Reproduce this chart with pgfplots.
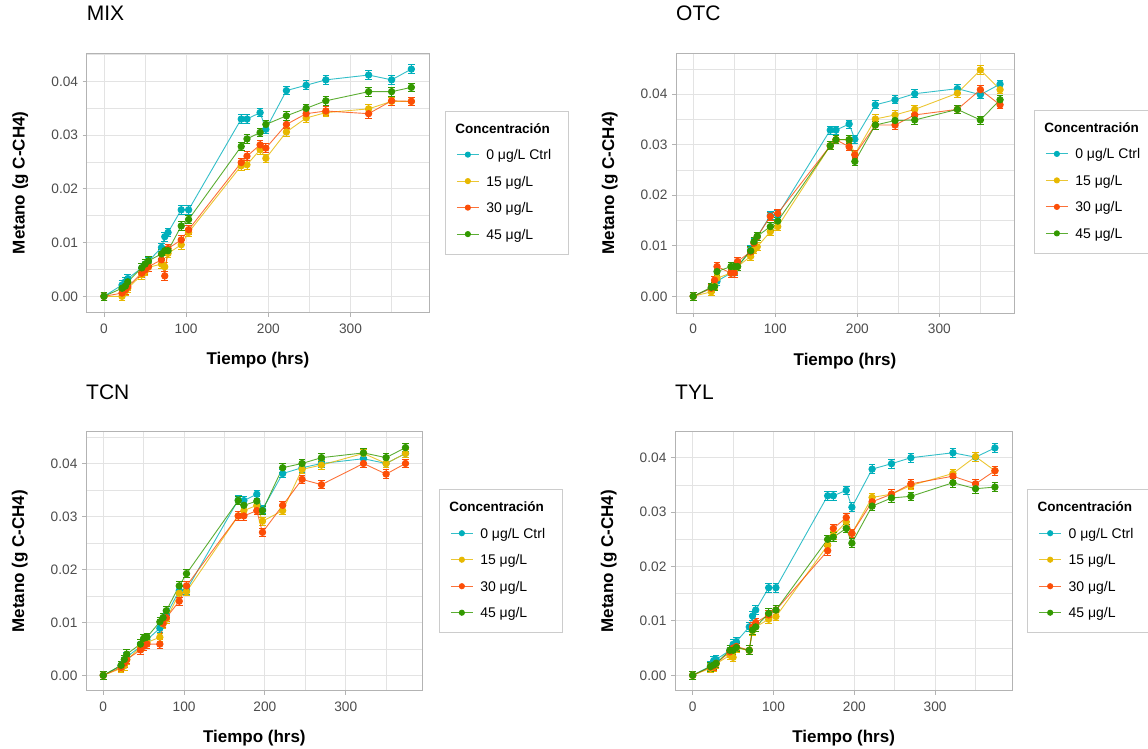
\documentclass[border=0pt]{standalone}
\usepackage{fontspec}
\setmainfont{Liberation Sans}
\usepackage{pgfplots}
\usepackage{pgfplotstable}
\pgfplotsset{compat=1.18}

\definecolor{cy}{HTML}{00AFBB}
\definecolor{ye}{HTML}{E7B800}
\definecolor{or}{HTML}{FC4E07}
\definecolor{gr}{HTML}{339900}
\definecolor{bordergray}{HTML}{B3B3B3}
\definecolor{gridgray}{HTML}{E3E3E3}
\definecolor{tickgray}{HTML}{4D4D4D}
\definecolor{legendgray}{HTML}{CCCCCC}

\newcommand{\tickfont}{\fontsize{13.7}{16}\selectfont}
\newcommand{\labfont}{\bfseries\fontsize{17}{20}\selectfont}
\newcommand{\titfont}{\fontsize{21}{24}\selectfont}
\newcommand{\legtitle}{\hspace*{-31pt}\makebox[102pt][l]{\bfseries\fontsize{13.5}{16}\selectfont Concentración}}

\pgfplotstableread{
t   c      y      o      g      e
0   0      0      0      0      0.0008
22  0.0021 0.0000 0.0006 0.0015 0.0008
26  0.0027 0.0010 0.0012 0.0019 0.0008
29  0.0033 0.0015 0.0018 0.0027 0.0008
46  0.0053 0.0040 0.0043 0.0053 0.0008
50  0.0060 0.0046 0.0049 0.0060 0.0008
54  0.0065 0.0054 0.0055 0.0066 0.0008
70  0.0091 0.0060 0.0068 0.0079 0.0008
74  0.0111 0.0055 0.0038 0.0085 0.0008
78  0.0119 0.0080 0.0089 0.0085 0.0008
94  0.0161 0.0096 0.0105 0.0131 0.0008
103 0.0161 0.0119 0.0124 0.0143 0.0008
167 0.0330 0.0243 0.0249 0.0279 0.0008
174 0.0330 0.0245 0.0261 0.0293 0.0008
190 0.0342 0.0273 0.0282 0.0305 0.0008
197 0.0311 0.0257 0.0276 0.0320 0.0008
222 0.0383 0.0306 0.0320 0.0336 0.0008
246 0.0393 0.0332 0.0340 0.0350 0.0008
270 0.0403 0.0342 0.0345 0.0364 0.0008
322 0.0412 0.0349 0.0340 0.0381 0.0008
350 0.0403 0.0363 0.0364 0.0381 0.0008
374 0.0423 0.0363 0.0363 0.0389 0.0008
}\mix

\pgfplotstableread{
t   c      y      o      g      e
0   0      0      0      0      0.0008
22  0.0016 0.0009 0.0016 0.0018 0.0008
26  0.0022 0.0022 0.0032 0.0019 0.0008
29  0.0030 0.0036 0.0059 0.0049 0.0008
46  0.0046 0.0046 0.0046 0.0059 0.0008
50  0.0050 0.0052 0.0046 0.0059 0.0008
54  0.0059 0.0059 0.0069 0.0059 0.0008
70  0.0092 0.0079 0.0088 0.0090 0.0008
74  0.0106 0.0092 0.0105 0.0108 0.0008
78  0.0118 0.0098 0.0118 0.0119 0.0008
94  0.0160 0.0128 0.0158 0.0138 0.0008
103 0.0161 0.0138 0.0164 0.0149 0.0008
167 0.0329 0.0298 0.0298 0.0298 0.0008
174 0.0329 0.0310 0.0310 0.0310 0.0008
190 0.0341 0.0310 0.0296 0.0310 0.0008
197 0.0311 0.0281 0.0280 0.0267 0.0008
222 0.0379 0.0351 0.0339 0.0339 0.0008
246 0.0389 0.0359 0.0339 0.0348 0.0008
270 0.0401 0.0370 0.0359 0.0349 0.0008
322 0.0411 0.0402 0.0370 0.0370 0.0008
350 0.0399 0.0448 0.0409 0.0349 0.0008
374 0.0420 0.0409 0.0379 0.0389 0.0008
}\otc

\pgfplotstableread{
t   c      y      o      g      e
0   0      0      0      0      0.0008
22  0.0018 0.0013 0.0015 0.0019 0.0008
26  0.0026 0.0018 0.0023 0.0030 0.0008
29  0.0035 0.0029 0.0030 0.0040 0.0008
46  0.0054 0.0053 0.0048 0.0059 0.0008
50  0.0062 0.0059 0.0055 0.0070 0.0008
54  0.0067 0.0062 0.0059 0.0072 0.0008
70  0.0089 0.0072 0.0059 0.0101 0.0008
74  0.0104 0.0097 0.0098 0.0109 0.0008
78  0.0114 0.0106 0.0109 0.0122 0.0008
94  0.0160 0.0155 0.0140 0.0169 0.0008
103 0.0161 0.0158 0.0169 0.0192 0.0008
167 0.0331 0.0301 0.0301 0.0330 0.0008
174 0.0330 0.0311 0.0301 0.0321 0.0008
190 0.0342 0.0321 0.0311 0.0329 0.0008
197 0.0313 0.0291 0.0270 0.0311 0.0008
222 0.0381 0.0311 0.0321 0.0392 0.0008
246 0.0392 0.0389 0.0370 0.0400 0.0008
270 0.0400 0.0397 0.0360 0.0411 0.0008
322 0.0409 0.0419 0.0400 0.0420 0.0008
350 0.0400 0.0400 0.0380 0.0411 0.0008
374 0.0419 0.0419 0.0400 0.0430 0.0008
}\tcn

\pgfplotstableread{
t   c      y      o      g      e
0   0      0      0      0      0.0008
22  0.0017 0.0013 0.0015 0.0016 0.0008
26  0.0027 0.0016 0.0017 0.0019 0.0008
29  0.0029 0.0021 0.0022 0.0022 0.0008
46  0.0046 0.0037 0.0043 0.0046 0.0008
50  0.0057 0.0033 0.0050 0.0046 0.0008
54  0.0062 0.0050 0.0053 0.0051 0.0008
70  0.0089 0.0046 0.0046 0.0046 0.0008
74  0.0109 0.0082 0.0089 0.0083 0.0008
78  0.0120 0.0089 0.0097 0.0089 0.0008
94  0.0161 0.0103 0.0111 0.0114 0.0008
103 0.0161 0.0108 0.0120 0.0120 0.0008
167 0.0330 0.0239 0.0229 0.0250 0.0008
174 0.0330 0.0257 0.0270 0.0254 0.0008
190 0.0340 0.0282 0.0290 0.0270 0.0008
197 0.0309 0.0261 0.0261 0.0243 0.0008
222 0.0379 0.0327 0.0319 0.0311 0.0008
246 0.0389 0.0333 0.0333 0.0326 0.0008
270 0.0400 0.0349 0.0352 0.0329 0.0008
322 0.0409 0.0371 0.0366 0.0354 0.0008
350 0.0401 0.0402 0.0352 0.0343 0.0008
374 0.0418 0.0376 0.0376 0.0346 0.0008
}\tyl

\pgfplotsset{
  panel/.style={
    scale only axis,
    anchor=south west,
    axis line style={draw=bordergray, line width=0.9pt},
    tick align=outside,
    xtick pos=bottom, ytick pos=left,
    major tick length=4pt,
    minor tick length=0pt,
    tick style={draw=bordergray, line width=0.9pt},
    xtick={0,100,200,300},
    minor xtick={50,150,250,350},
    ytick={0,0.01,0.02,0.03,0.04},
    minor ytick={0.005,0.015,0.025,0.035,0.045},
    grid=both,
    major grid style={draw=gridgray, line width=0.9pt},
    minor grid style={draw=gridgray, line width=0.6pt},
    scaled y ticks=false,
    /pgf/number format/assume math mode=true,
    yticklabel style={/pgf/number format/fixed, /pgf/number format/fixed zerofill, /pgf/number format/precision=2, font=\tickfont, text=tickgray, inner sep=0pt, xshift=-4.4pt},
    xticklabel style={font=\tickfont, text=tickgray, inner sep=0pt, yshift=-6.6pt},
    title style={at={(axis description cs:0,1)}, anchor=base west, yshift=26.5pt, inner sep=0pt, font=\titfont},
    xlabel={Tiempo (hrs)},
    ylabel={Metano (g C-CH4)},
    xlabel style={at={(axis description cs:0.5,0)}, anchor=base, yshift=-52pt, inner sep=0pt, font=\labfont},
    ylabel style={anchor=base, inner sep=0pt, font=\labfont},
    legend cell align=left,
    legend style={anchor=north west, draw=legendgray, line width=0.8pt, fill=white,
      inner xsep=11pt, inner ysep=12pt, row sep=13.5pt, column sep=7pt,
      font=\fontsize{14}{16}\selectfont,
      nodes={inner sep=0pt, text height=10pt, text depth=3pt}},
    legend image code/.code={\draw[mark repeat=2, mark phase=2, ##1, mark size=2.6pt] plot coordinates {(0pt,1.5pt) (11pt,1.5pt) (22pt,1.5pt)};},
  },
  ser/.style={color=#1, line width=0.9pt, draw opacity=0.8, mark=*, mark size=3.2pt,
    mark options={solid, draw opacity=1, fill opacity=1},
    error bars/.cd, y dir=both, y explicit,
    error bar style={line width=0.9pt, draw opacity=1},
    error mark options={rotate=90, mark size=3.3pt, line width=0.9pt}},
}

\begin{document}
\begin{tikzpicture}
\useasboundingbox (0,0) rectangle (1148pt,748pt);

\begin{axis}[panel, at={(86.7pt,435.3pt)}, width=342.3pt, height=259.7pt,
  xmin=-21, xmax=395.5, ymin=-0.00305, ymax=0.0453, title={MIX},
  ylabel style={at={(axis description cs:-0.1811,0.5)}},
  legend style={at={(axis description cs:1.0467,0.7778)}}]
\addlegendimage{empty legend}
\addplot[ser=cy] table[x=t, y=c, y error=e] {\mix};
\addplot[ser=ye] table[x=t, y=y, y error=e] {\mix};
\addplot[ser=or] table[x=t, y=o, y error=e] {\mix};
\addplot[ser=gr] table[x=t, y=g, y error=e] {\mix};
\legend{\legtitle, 0 μg/L Ctrl, 15 μg/L, 30 μg/L, 45 μg/L}
\end{axis}

\begin{axis}[panel, at={(676pt,435pt)}, width=338pt, height=259.7pt,
  xmin=-21, xmax=391, ymin=-0.0033, ymax=0.0481, title={OTC},
  ylabel style={at={(axis description cs:-0.1834,0.5)}},
  legend style={at={(axis description cs:1.0592,0.7817)}}]
\addlegendimage{empty legend}
\addplot[ser=cy] table[x=t, y=c, y error=e] {\otc};
\addplot[ser=ye] table[x=t, y=y, y error=e] {\otc};
\addplot[ser=or] table[x=t, y=o, y error=e] {\otc};
\addplot[ser=gr] table[x=t, y=g, y error=e] {\otc};
\legend{\legtitle, 0 μg/L Ctrl, 15 μg/L, 30 μg/L, 45 μg/L}
\end{axis}

\begin{axis}[panel, at={(86pt,57.3pt)}, width=336.7pt, height=259pt,
  xmin=-21.4, xmax=395.3, ymin=-0.0029, ymax=0.046, title={TCN},
  ylabel style={at={(axis description cs:-0.1841,0.5)}},
  legend style={at={(axis description cs:1.0484,0.7776)}}]
\addlegendimage{empty legend}
\addplot[ser=cy] table[x=t, y=c, y error=e] {\tcn};
\addplot[ser=ye] table[x=t, y=y, y error=e] {\tcn};
\addplot[ser=or] table[x=t, y=o, y error=e] {\tcn};
\addplot[ser=gr] table[x=t, y=g, y error=e] {\tcn};
\legend{\legtitle, 0 μg/L Ctrl, 15 μg/L, 30 μg/L, 45 μg/L}
\end{axis}

\begin{axis}[panel, at={(675pt,57.3pt)}, width=337.3pt, height=259pt,
  xmin=-21.9, xmax=395.5, ymin=-0.00283, ymax=0.04478, title={TYL},
  ylabel style={at={(axis description cs:-0.1838,0.5)}},
  legend style={at={(axis description cs:1.0445,0.7776)}}]
\addlegendimage{empty legend}
\addplot[ser=cy] table[x=t, y=c, y error=e] {\tyl};
\addplot[ser=ye] table[x=t, y=y, y error=e] {\tyl};
\addplot[ser=or] table[x=t, y=o, y error=e] {\tyl};
\addplot[ser=gr] table[x=t, y=g, y error=e] {\tyl};
\legend{\legtitle, 0 μg/L Ctrl, 15 μg/L, 30 μg/L, 45 μg/L}
\end{axis}
\end{tikzpicture}
\end{document}
